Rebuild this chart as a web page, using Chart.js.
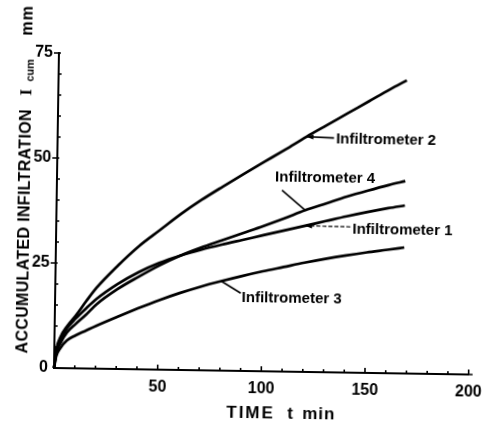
<!DOCTYPE html>
<html>
<head>
<meta charset="utf-8">
<script src="https://cdn.jsdelivr.net/npm/chart.js@4.4.1/dist/chart.umd.min.js"></script>
<style>
html, body { margin: 0; padding: 0; background: #fff; }
#wrap { width: 490px; height: 424px; overflow: hidden; background: #fff; }
#infChart { display: block; transform: rotate(0.9deg); transform-origin: 54px 368px; }
</style>
</head>
<body>
<div id="wrap"><canvas id="infChart" width="490" height="424"></canvas></div>
<script>

// time since the start of the run, minutes
const times = [0, 1, 3, 6, 10, 15, 20, 30, 40, 50, 60, 70, 80, 90, 100, 110, 120, 130, 140, 150, 160, 168];

// accumulated infiltration, mm
const inf1 = [0, 4.0, 6.8, 9.5, 11.8, 14.3, 16.6, 20.2, 23.1, 25.4, 27.2, 28.7, 30.0, 31.2, 32.4, 33.6, 34.8, 36.0, 37.2, 38.3, 39.3, 40.0];
const inf2 = [0, 4.5, 7.5, 10.0, 12.5, 16.0, 19.3, 24.6, 29.3, 33.2, 37.1, 40.6, 43.8, 46.9, 49.9, 52.9, 56.0, 58.9, 61.8, 64.7, 67.6, 69.8];
const inf3 = [0, 2.8, 4.8, 6.6, 7.8, 9.0, 10.2, 12.4, 14.5, 16.5, 18.3, 19.9, 21.3, 22.6, 23.8, 24.9, 26.0, 27.0, 27.9, 28.7, 29.4, 30.0];
const inf4 = [0, 3.5, 6.0, 8.5, 10.5, 12.8, 15.3, 19.0, 22.0, 24.8, 27.2, 29.2, 31.0, 32.8, 34.6, 36.5, 38.5, 40.2, 41.9, 43.4, 44.8, 45.8];

const seriesNames = ["Infiltrometer 1", "Infiltrometer 2", "Infiltrometer 3", "Infiltrometer 4"];
const seriesValues = [inf1, inf2, inf3, inf4];

// axis tick labels
const xTicks = [0, 50, 100, 150, 200];
const yTicks = [0, 25, 50, 75];

// curve callouts: which series, the time the pointer touches,
// where the leader ends and where the text starts (data units)
const callouts = [
  { series: 1, at: 120, lineTo: [133.3, 55.8], textAt: [134.3, 55.6], arrow: true, dash: false },
  { series: 3, at: 120, lineTo: [108.6, 43.2], textAt: [105.2, 46.2], arrow: false, dash: false },
  { series: 0, at: 120, lineTo: [141.9, 34.7], textAt: [142.9, 34.0], arrow: true, dash: true },
  { series: 2, at: 80, lineTo: [89.5, 18.5], textAt: [90.0, 17.5], arrow: false, dash: false }
];

const inkFont = "'Liberation Sans', Arial, sans-serif";

// small inward ticks on both axes, major ones on the y axis stick out
const axisTicks = {
  id: "axisTicks",
  afterDraw(chart) {
    const ctx = chart.ctx;
    const xs = chart.scales.x, ys = chart.scales.y;
    ctx.save();
    ctx.strokeStyle = "#000";
    ctx.lineWidth = 1.6;
    ctx.beginPath();
    // axis runs a little past the last tick
    ctx.moveTo(xs.right, ys.bottom);
    ctx.lineTo(xs.right + 4, ys.bottom);
    for (let v = 10; v <= 200; v += 10) {
      const px = xs.getPixelForValue(v);
      const len = v % 50 === 0 ? 5 : 3;
      ctx.moveTo(px, ys.bottom);
      ctx.lineTo(px, ys.bottom - len);
    }
    for (let v = 5; v <= 75; v += 5) {
      const py = ys.getPixelForValue(v);
      if (v % 25 === 0) {
        ctx.moveTo(xs.left - 5, py);
        ctx.lineTo(xs.left + 2, py);
      } else {
        ctx.moveTo(xs.left, py);
        ctx.lineTo(xs.left + 3, py);
      }
    }
    ctx.stroke();
    ctx.restore();
  }
};

// axis titles, the y one has a subscript so it is drawn by hand
const axisTitles = {
  id: "axisTitles",
  afterDraw(chart) {
    const ctx = chart.ctx;
    ctx.save();
    ctx.fillStyle = "#000";
    ctx.textBaseline = "alphabetic";
    ctx.textAlign = "left";

    // y title, reads bottom to top
    ctx.save();
    ctx.translate(27, 354);
    ctx.rotate(-Math.PI / 2);
    const main = "ACCUMULATED INFILTRATION";
    ctx.font = "bold 16px " + inkFont;
    const w = ctx.measureText(main).width;
    ctx.letterSpacing = ((244 - w) / (main.length - 1)).toFixed(2) + "px";
    ctx.fillText(main, 0, 0);
    ctx.letterSpacing = "0px";
    ctx.font = "bold 17px 'Liberation Serif', serif";
    ctx.fillText("I", 258, 0);
    ctx.font = "bold 11px " + inkFont;
    ctx.fillText("cum", 272, 2);
    ctx.font = "bold 16px " + inkFont;
    ctx.letterSpacing = "1px";
    ctx.fillText("mm", 318, 0);
    ctx.restore();

    // x title
    ctx.font = "bold 17px " + inkFont;
    ctx.letterSpacing = "2px";
    ctx.fillText("TIME", 227, 415);
    ctx.letterSpacing = "1px";
    ctx.fillText("t", 288, 415);
    ctx.fillText("min", 303, 415);
    ctx.restore();
  }
};

// labels with leader lines pointing at each curve
const curveCallouts = {
  id: "curveCallouts",
  afterDatasetsDraw(chart) {
    const ctx = chart.ctx;
    const xs = chart.scales.x, ys = chart.scales.y;
    ctx.save();
    ctx.strokeStyle = "#000";
    ctx.fillStyle = "#000";
    callouts.forEach(c => {
      const idx = times.indexOf(c.at);
      const tipX = xs.getPixelForValue(c.at);
      const tipY = ys.getPixelForValue(seriesValues[c.series][idx]);
      const endX = xs.getPixelForValue(c.lineTo[0]);
      const endY = ys.getPixelForValue(c.lineTo[1]);

      ctx.lineWidth = c.dash ? 1.2 : 1.6;
      ctx.setLineDash(c.dash ? [4, 2] : []);
      ctx.beginPath();
      ctx.moveTo(endX, endY);
      ctx.lineTo(tipX, tipY);
      ctx.stroke();
      ctx.setLineDash([]);

      if (c.arrow) {
        const ang = Math.atan2(tipY - endY, tipX - endX);
        const len = 7, half = 2.6;
        ctx.beginPath();
        ctx.moveTo(tipX, tipY);
        ctx.lineTo(tipX - len * Math.cos(ang) + half * Math.sin(ang), tipY - len * Math.sin(ang) - half * Math.cos(ang));
        ctx.lineTo(tipX - len * Math.cos(ang) - half * Math.sin(ang), tipY - len * Math.sin(ang) + half * Math.cos(ang));
        ctx.closePath();
        ctx.fill();
      }

      ctx.font = "bold 15px " + inkFont;
      ctx.textAlign = "left";
      ctx.textBaseline = "middle";
      ctx.fillText(seriesNames[c.series], xs.getPixelForValue(c.textAt[0]), ys.getPixelForValue(c.textAt[1]));
    });
    ctx.restore();
  }
};

const datasets = seriesValues.map((vals, i) => ({
  label: seriesNames[i],
  data: times.map((t, j) => ({ x: t, y: vals[j] })),
  borderColor: "#000",
  borderWidth: 2.7,
  pointRadius: 0,
  fill: false,
  cubicInterpolationMode: "monotone",
  clip: false
}));

const tickFont = { family: inkFont, size: 16, weight: "bold" };

new Chart(document.getElementById("infChart"), {
  type: "line",
  data: { datasets: datasets },
  options: {
    responsive: false,
    animation: false,
    devicePixelRatio: 1,
    layout: { padding: { left: 0, right: 16, top: 53, bottom: 0 } },
    plugins: {
      legend: { display: false },
      tooltip: { enabled: false }
    },
    scales: {
      x: {
        type: "linear",
        min: 0,
        max: 200,
        grid: { display: false, drawTicks: false },
        border: { display: true, color: "#000", width: 2 },
        ticks: {
          color: "#000",
          font: tickFont,
          padding: 8,
          maxRotation: 0,
          callback: v => (v === 0 ? "" : v)
        },
        afterBuildTicks: s => { s.ticks = xTicks.map(v => ({ value: v })); },
        afterFit: s => { s.height = 56; }
      },
      y: {
        type: "linear",
        min: 0,
        max: 75,
        grid: { display: false, drawTicks: false },
        border: { display: true, color: "#000", width: 2 },
        ticks: { color: "#000", font: tickFont, padding: 6 },
        afterBuildTicks: s => { s.ticks = yTicks.map(v => ({ value: v })); },
        afterFit: s => { s.width = 54; }
      }
    }
  },
  plugins: [axisTicks, axisTitles, curveCallouts]
});

</script>
</body>
</html>
